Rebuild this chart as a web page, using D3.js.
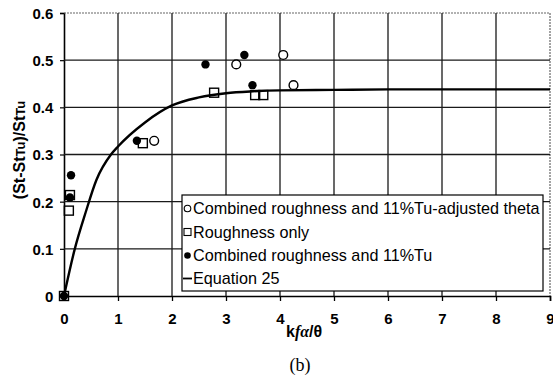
<!DOCTYPE html>
<html>
<head>
<meta charset="utf-8">
<script src="https://cdn.jsdelivr.net/npm/d3@7"></script>
</head>
<body style="margin:0">
<svg id="chart" width="553" height="379" font-family="Liberation Sans, Arial, sans-serif"></svg>
<script>
// Stanton number augmentation versus roughness parameter k·f·α/θ
const xTicks = [0, 1, 2, 3, 4, 5, 6, 7, 8, 9];
const yTicks = [0, 0.1, 0.2, 0.3, 0.4, 0.5, 0.6];
const yTickLabels = ["0", "0.1", "0.2", "0.3", "0.4", "0.5", "0.6"];

// Combined roughness and 11%Tu, adjusted theta (open circles)
const adjustedX = [1.67, 3.19, 4.06, 4.25];
const adjustedY = [0.329, 0.491, 0.511, 0.447];

// Roughness only (open squares)
const roughX = [0, 0.09, 0.11, 1.46, 2.78, 3.54, 3.69];
const roughY = [0, 0.181, 0.214, 0.324, 0.431, 0.426, 0.426];

// Combined roughness and 11%Tu (filled circles)
const combinedX = [0, 0.11, 0.13, 1.35, 2.62, 3.34, 3.49];
const combinedY = [0, 0.209, 0.256, 0.329, 0.491, 0.511, 0.447];

// Equation 25 correlation curve
const eqX = [0, 0.2, 0.4, 0.6, 0.87, 1.0, 1.5, 2.0, 2.5, 3.0, 3.5, 4.0, 5.0, 6.0, 7.0, 8.0, 9.0];
const eqY = [0, 0.1, 0.177, 0.246, 0.300, 0.317, 0.368, 0.404, 0.421, 0.430, 0.434, 0.436, 0.437, 0.438, 0.438, 0.438, 0.438];

const legendLabels = [
  "Combined roughness and 11%Tu-adjusted theta",
  "Roughness only",
  "Combined roughness and 11%Tu",
  "Equation 25"
];

const svg = d3.select("#chart");
const x = d3.scaleLinear().domain([0, 9]).range([64, 550]);
const y = d3.scaleLinear().domain([0, 0.6]).range([296, 13]);

const zip = (a, b) => a.map((v, i) => [v, b[i]]);

// axes
const xAxis = d3.axisBottom(x).tickValues(xTicks).tickSize(5).tickFormat(d3.format("d"));
const gx = svg.append("g").attr("transform", `translate(0,${y(0)})`).call(xAxis);
gx.attr("font-family", null);
gx.select(".domain").attr("stroke-width", 1.6);
gx.selectAll(".tick line").attr("stroke-width", 1.3);
gx.selectAll(".tick text").attr("dy", "1.35em")
  .attr("font-size", 15).attr("font-weight", "bold");

const yAxis = d3.axisLeft(y).tickValues(yTicks).tickSize(4)
  .tickFormat((d, i) => yTickLabels[i]);
const gy = svg.append("g").attr("transform", `translate(${x(0)},0)`).call(yAxis);
gy.attr("font-family", null);
gy.select(".domain").attr("stroke-width", 1.6);
gy.selectAll(".tick line").attr("stroke-width", 1.2);
gy.selectAll(".tick text").attr("dx", "-0.25em").attr("dy", "0.36em")
  .attr("font-size", 15).attr("font-weight", "bold");

// outer frame (top and right drawn light and dotted)
const frame = d3.path();
frame.moveTo(x(0), y(0.6)); frame.lineTo(x(9), y(0.6)); frame.lineTo(x(9), y(0));
svg.append("path").attr("d", frame.toString()).attr("fill", "none")
  .attr("stroke", "#666").attr("stroke-width", 1.2).attr("stroke-dasharray", "2,1");

// grid lines at the interior ticks, drawn as one path
const gridPath = d3.path();
xTicks.slice(1, -1).forEach(v => { gridPath.moveTo(x(v), y(0.6)); gridPath.lineTo(x(v), y(0)); });
yTicks.slice(1, -1).forEach(v => { gridPath.moveTo(x(0), y(v)); gridPath.lineTo(x(9), y(v)); });
svg.append("path").attr("d", gridPath.toString()).attr("fill", "none")
  .attr("stroke", "#1a1a1a").attr("stroke-width", 1.3);

// Equation 25 curve
const line = d3.line().x(d => x(d[0])).y(d => y(d[1])).curve(d3.curveMonotoneX);
svg.append("path").datum(zip(eqX, eqY))
  .attr("d", line).attr("fill", "none").attr("stroke", "#000").attr("stroke-width", 2.4);

// data markers
svg.append("g").selectAll("circle").data(zip(combinedX, combinedY)).join("circle")
  .attr("cx", d => x(d[0])).attr("cy", d => y(d[1])).attr("r", 4.2).attr("fill", "#000");
svg.append("g").selectAll("rect").data(zip(roughX, roughY)).join("rect")
  .attr("x", d => x(d[0]) - 4.5).attr("y", d => y(d[1]) - 4.5)
  .attr("width", 9).attr("height", 9)
  .attr("fill", "none").attr("stroke", "#000").attr("stroke-width", 1.4);
svg.append("g").selectAll("circle").data(zip(adjustedX, adjustedY)).join("circle")
  .attr("cx", d => x(d[0])).attr("cy", d => y(d[1])).attr("r", 4.4)
  .attr("fill", "#fff").attr("stroke", "#000").attr("stroke-width", 1.4);

// legend
const lg = svg.append("g");
lg.append("rect").attr("x", 182).attr("y", 195).attr("width", 361).attr("height", 96)
  .attr("fill", "#fff").attr("stroke", "#000").attr("stroke-width", 1.2);
const rowY = [208.5, 232, 255.5, 278.5];
lg.append("circle").attr("cx", 187.5).attr("cy", rowY[0]).attr("r", 3.3)
  .attr("fill", "#fff").attr("stroke", "#000").attr("stroke-width", 1.1);
lg.append("rect").attr("x", 184).attr("y", rowY[1] - 3.5).attr("width", 7).attr("height", 7)
  .attr("fill", "#fff").attr("stroke", "#000").attr("stroke-width", 1.1);
lg.append("circle").attr("cx", 187.5).attr("cy", rowY[2]).attr("r", 3.3).attr("fill", "#000");
lg.append("line").attr("x1", 183).attr("x2", 192).attr("y1", rowY[3]).attr("y2", rowY[3])
  .attr("stroke", "#000").attr("stroke-width", 1.8);
lg.selectAll("text").data(legendLabels).join("text")
  .attr("x", 193).attr("y", (d, i) => rowY[i] + 5.5)
  .attr("font-size", 16.2)
  .text(d => d);

// axis titles
const yt = svg.append("text")
  .attr("transform", "translate(25,150) rotate(-90)")
  .attr("text-anchor", "middle")
  .attr("font-size", 16).attr("font-weight", "bold");
yt.append("tspan").text("(St-St");
yt.append("tspan").attr("font-size", 13).text("Tu");
yt.append("tspan").text(")/St");
yt.append("tspan").attr("font-size", 13).text("Tu");

const xt = svg.append("text").attr("x", 286).attr("y", 337)
  .attr("font-size", 16).attr("font-weight", "bold");
xt.append("tspan").text("k");
xt.append("tspan").attr("font-family", "Liberation Serif, serif").attr("font-style", "italic").text("f");
xt.append("tspan").attr("font-family", "Liberation Serif, serif").attr("font-style", "italic").text("α");
xt.append("tspan").text("/θ");

svg.append("text").attr("x", 300).attr("y", 371).attr("text-anchor", "middle")
  .attr("font-family", "Liberation Serif, Times New Roman, serif")
  .attr("font-size", 18).text("(b)");
</script>
</body>
</html>
